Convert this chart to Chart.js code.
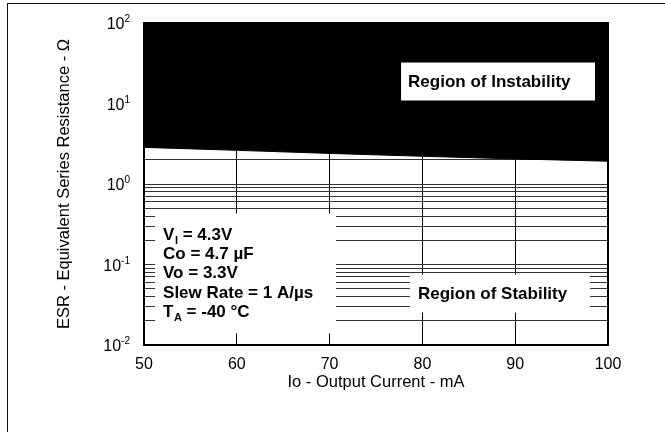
<!DOCTYPE html>
<html>
<head>
<meta charset="utf-8">
<script src="https://cdn.jsdelivr.net/npm/chart.js@4.4.1/dist/chart.umd.min.js"></script>
<style>
  html, body { margin: 0; padding: 0; background: #fff; }
  #wrap { position: relative; width: 665px; height: 432px; overflow: hidden; }
  #frame { position: absolute; left: 7px; top: 3px; right: -10px; bottom: -10px;
           border-top: 1px solid #111; border-left: 1px solid #111; }
  canvas { position: absolute; left: 0; top: 0; }
</style>
</head>
<body>
<div id="wrap">
  <div id="frame"></div>
  <canvas id="esr" width="665" height="432"></canvas>
</div>
<script>
// ===== DATA =====
const currentMA = [50, 60, 70, 80, 90, 100];
const esrLimit = [2.85, 2.62, 2.4, 2.21, 2.05, 1.92];   // boundary of the unstable region, ohms
const xTickValues = [50, 60, 70, 80, 90, 100];
const yDecades = [0.01, 0.1, 1, 10, 100];
const yExponents = ['-2', '-1', '0', '1', '2'];
const yMinorSteps = [1, 2, 3, 4, 5, 6, 7, 8, 9];

// gridline values: 1..9 in each decade, plus the top
const yGridValues = [];
yDecades.slice(0, -1).forEach(d => yMinorSteps.forEach(s => yGridValues.push(+(d * s).toPrecision(3))));
yGridValues.push(yDecades[yDecades.length - 1]);

// ===== NOTES (text boxes, placed in data units) =====
const FONT = "'Liberation Sans', Arial, Helvetica, sans-serif";
const notes = [
  { x0: 77.7, x1: 98.6, y0: 32.3, y1: 10.9, dx: 7, dy: 24,
    lines: [['Region of Instability']] },
  { x0: 78.66, x1: 98.06, y0: 0.0751, y1: 0.0253, dx: 8, dy: 24,
    lines: [['Region of Stability']] },
  { x0: 51.19, x1: 70.69, y0: 0.43, y1: 0.0139, dx: 8, dy: 26,
    lines: [
      ['V', 'I', ' = 4.3V'],
      ['Co = 4.7 µF'],
      ['Vo = 3.3V'],
      ['Slew Rate = 1 A/µs'],
      ['T', 'A', ' = -40 °C']
    ] }
];

function drawParts(ctx, parts, x, y) {
  ctx.font = 'bold 17px ' + FONT;
  ctx.fillText(parts[0], x, y);
  x += ctx.measureText(parts[0]).width;
  if (parts[1]) {
    ctx.font = 'bold 11px ' + FONT;
    ctx.fillText(parts[1], x + 0.5, y + 4);
    x += ctx.measureText(parts[1]).width + 0.5;
    ctx.font = 'bold 17px ' + FONT;
    ctx.fillText(parts[2], x, y);
  }
}

const regionNotes = {
  id: 'regionNotes',
  afterDatasetsDraw(chart) {
    const { ctx, chartArea: a, scales: { x, y } } = chart;
    ctx.save();
    ctx.strokeStyle = '#000';
    ctx.lineWidth = 2;
    ctx.strokeRect(a.left, a.top, a.right - a.left, a.bottom - a.top);

    ctx.textAlign = 'left';
    ctx.textBaseline = 'alphabetic';
    notes.forEach(n => {
      const l = x.getPixelForValue(n.x0), r = x.getPixelForValue(n.x1);
      const t = y.getPixelForValue(n.y0), b = y.getPixelForValue(n.y1);
      ctx.fillStyle = '#fff';
      ctx.fillRect(l, t, r - l, b - t);
      ctx.fillStyle = '#000';
      n.lines.forEach((parts, i) => drawParts(ctx, parts, l + n.dx, t + n.dy + i * 19.4));
    });

    // y tick labels as 10 with a raised exponent
    const right = 130;
    yDecades.forEach((v, i) => {
      const py = y.getPixelForValue(v);
      ctx.font = '10px ' + FONT;
      const ew = ctx.measureText(yExponents[i]).width;
      ctx.fillText(yExponents[i], right - ew, py - 1);
      ctx.font = '16px ' + FONT;
      const bw = ctx.measureText('10').width;
      ctx.fillText('10', right - ew - bw, py + 6);
    });
    ctx.restore();
  }
};

new Chart(document.getElementById('esr'), {
  type: 'line',
  data: {
    datasets: [{
      data: currentMA.map((c, i) => ({ x: c, y: esrLimit[i] })),
      borderColor: '#000',
      borderWidth: 1,
      backgroundColor: '#000',
      fill: 'end',
      pointRadius: 0,
      tension: 0
    }]
  },
  options: {
    responsive: false,
    animation: false,
    layout: { padding: { top: 23, right: 57, left: 0, bottom: 0 } },
    plugins: { legend: { display: false }, tooltip: { enabled: false } },
    scales: {
      x: {
        type: 'linear',
        min: 50, max: 100,
        afterBuildTicks: s => { s.ticks = xTickValues.map(v => ({ value: v })); },
        ticks: { color: '#000', padding: 10, font: { family: FONT, size: 16 } },
        grid: { color: '#000', lineWidth: 1, drawTicks: false },
        border: { color: '#000', width: 2 },
        title: {
          display: true, text: 'Io - Output Current - mA', color: '#000',
          font: { family: FONT, size: 16.5 }, padding: { top: 0, bottom: 40 }
        },
        afterFit: s => { s.height = 87; }
      },
      y: {
        type: 'logarithmic',
        min: 0.01, max: 100,
        afterBuildTicks: s => { s.ticks = yGridValues.map(v => ({ value: v })); },
        ticks: { display: false, autoSkip: false },
        grid: { color: '#333', lineWidth: 1, drawTicks: false },
        border: { color: '#000', width: 2 },
        title: {
          display: true, text: 'ESR - Equivalent Series Resistance - Ω', color: '#000',
          font: { family: FONT, size: 16.5 }, padding: { top: 55, bottom: 0 }
        },
        afterFit: s => { s.width = 144; }
      }
    }
  },
  plugins: [regionNotes]
});
</script>
</body>
</html>
